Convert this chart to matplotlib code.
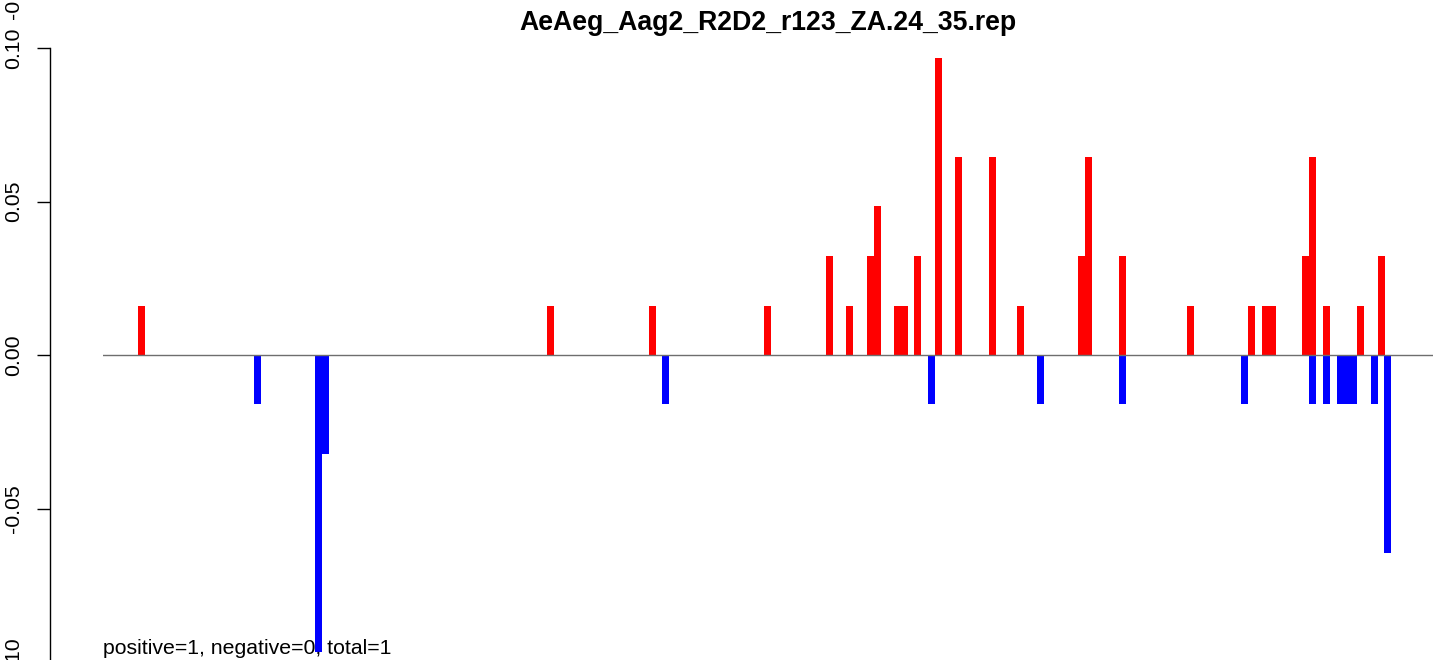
import matplotlib
matplotlib.use("Agg")
import matplotlib.pyplot as plt

plt.rcParams['font.family'] = ['Liberation Sans', 'DejaVu Sans']

title = "AeAeg_Aag2_R2D2_r123_ZA.24_35.rep"
note = "positive=1, negative=0, total=1"

# positions along the sequence (plot units) and normalised read values
pos_pos = [38.5, 447, 549.5, 664.5, 726.5, 746.5, 767.5, 774.5, 794.5, 801.5,
           814.5, 835.5, 855.5, 889.5, 917.5, 978.5, 985.5, 1019.5, 1087.5,
           1148.5, 1162.5, 1169.5, 1202.5, 1209.5, 1223.5, 1257.5, 1278.5]
val_pos = [0.0161, 0.0161, 0.0161, 0.0161, 0.0323, 0.0161, 0.0323, 0.0484, 0.0161, 0.0161,
           0.0323, 0.0968, 0.0645, 0.0645, 0.0161, 0.0323, 0.0645, 0.0323, 0.0161,
           0.0161, 0.0161, 0.0161, 0.0323, 0.0645, 0.0161, 0.0161, 0.0323]

pos_neg = [154.5, 215.5, 222.5, 562.5, 828.5, 937.5, 1019.5, 1141.5, 1209.5,
           1223.5, 1237.5, 1244, 1250.5, 1271.5, 1284.5]
val_neg = [-0.0161, -0.0968, -0.0323, -0.0161, -0.0161, -0.0161, -0.0161, -0.0161, -0.0161,
           -0.0161, -0.0161, -0.0161, -0.0161, -0.0161, -0.0645]

yticks = [-0.10, -0.05, 0.00, 0.05, 0.10]
ytick_labels = ["-0.10", "-0.05", "0.00", "0.05", "0.10"]

W, H = 1433, 660
fig = plt.figure(figsize=(W / 100, H / 100), dpi=100)
# plot region: x 103..1433 px, y from 0.10 at 48 px to -0.10 at 662 px
ax = fig.add_axes([103 / W, -2 / H, 1330 / W, 614 / H])
ax.set_xlim(0, 1330)
ax.set_ylim(-0.10, 0.10)

ax.bar(pos_pos, val_pos, width=7, color="#ff0000", linewidth=0, zorder=2)
ax.bar(pos_neg, val_neg, width=7, color="#0000ff", linewidth=0, zorder=2)
ax.axhline(0, color="#6e6e6e", lw=1.0, zorder=3)

for s in ["top", "right", "bottom"]:
    ax.spines[s].set_visible(False)
ax.spines["left"].set_position(("axes", -53 / 1330))
ax.spines["left"].set_linewidth(1.0)
ax.set_xticks([])
ax.set_yticks(yticks)
ax.set_yticklabels(ytick_labels, rotation=90, va="center", fontsize=15.3)
ax.tick_params(axis="y", length=9.5, width=1.0, pad=10)

fig.text(768 / W, 1 - 30 / H, title, ha="center", va="baseline",
         fontsize=19.2, fontweight="bold")
fig.text(103 / W, 1 - 654 / H, note, ha="left", va="baseline", fontsize=15.3, zorder=5)
# cropped label of the panel above, visible at the top-left corner
fig.text(14 / W, 1 - 19 / H, "-0.10", rotation=90, ha="center", va="bottom", fontsize=15.3)

fig.savefig("out.png", dpi=100)
